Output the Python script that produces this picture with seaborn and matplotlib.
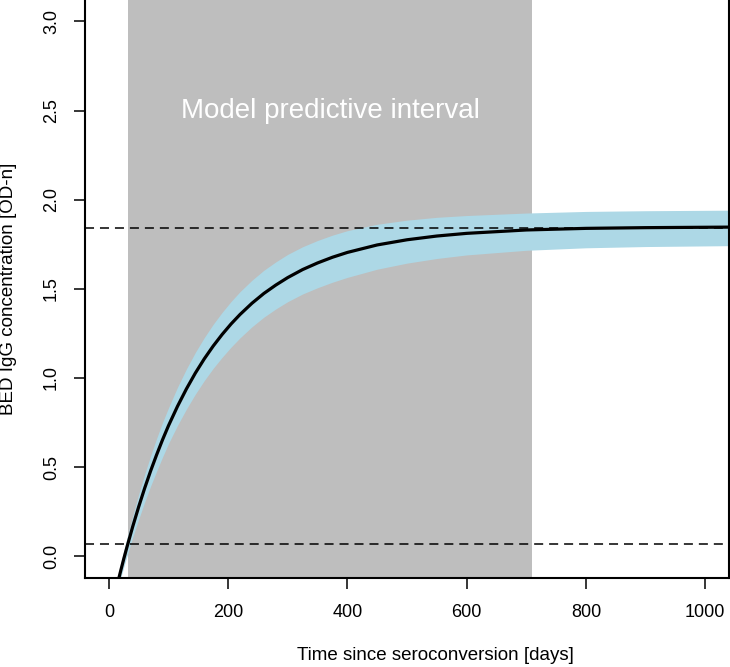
"""
BED IgG concentration vs time since seroconversion, with model predictive interval
"""

import pandas as pd
import matplotlib
matplotlib.use("Agg")
import matplotlib.pyplot as plt
import seaborn as sns

# --- Data ---
days = [10, 15, 20, 25, 30, 40, 50, 60, 70, 80, 90, 100, 115, 130, 145, 160,
        175, 190, 205, 220, 240, 260, 280, 300, 325, 350, 375, 400, 450, 500,
        550, 600, 700, 800, 900, 1040]
od_mean = [-0.216, -0.147, -0.080, -0.015, 0.047, 0.166, 0.277, 0.381, 0.478,
           0.568, 0.653, 0.732, 0.840, 0.938, 1.027, 1.107, 1.179, 1.244, 1.303,
           1.356, 1.419, 1.474, 1.521, 1.563, 1.608, 1.645, 1.677, 1.704, 1.746,
           1.775, 1.796, 1.811, 1.830, 1.839, 1.843, 1.846]
od_upper = [-0.186, -0.112, -0.040, 0.030, 0.097, 0.226, 0.347, 0.459, 0.563,
            0.660, 0.750, 0.832, 0.947, 1.050, 1.143, 1.226, 1.301, 1.368, 1.429,
            1.484, 1.548, 1.604, 1.651, 1.693, 1.736, 1.771, 1.801, 1.826, 1.862,
            1.885, 1.901, 1.911, 1.925, 1.934, 1.938, 1.941]
od_lower = [-0.246, -0.182, -0.120, -0.060, -0.003, 0.106, 0.207, 0.303, 0.393,
            0.476, 0.556, 0.632, 0.733, 0.825, 0.909, 0.985, 1.054, 1.116, 1.173,
            1.225, 1.287, 1.341, 1.387, 1.428, 1.471, 1.506, 1.537, 1.564, 1.610,
            1.644, 1.670, 1.690, 1.716, 1.730, 1.737, 1.742]
window = [32, 710]          # model predictive interval (days)
thresholds = [1.84, 0.066]  # dashed reference levels
x_ticks = [0, 200, 400, 600, 800, 1000]
y_ticks = [0.0, 0.5, 1.0, 1.5, 2.0, 2.5, 3.0]

df = pd.DataFrame({"days": days, "od": od_mean, "hi": od_upper, "lo": od_lower})

# --- Style ---
sns.set_style("ticks")
plt.rcParams['font.family'] = ['Liberation Sans', 'DejaVu Sans']

fig = plt.figure(figsize=(7.3, 6.67), dpi=100)
ax = fig.add_axes([85 / 730, 89.4 / 667, 644 / 730, 577.6 / 667])

# grey window + white label
ax.axvspan(window[0], window[1], color="#BEBEBE", lw=0, zorder=0)
ax.text(sum(window) / 2, 2.5, "Model predictive interval", color="white",
        fontsize=20, ha="center", va="center", zorder=1)

# predictive band and mean curve
ax.fill_between(df["days"], df["lo"], df["hi"], color="#ADD8E6", lw=0, zorder=2)
sns.lineplot(data=df, x="days", y="od", color="black", lw=2.3, sort=False,
             ax=ax, zorder=4)

for t in thresholds:
    ax.axhline(t, color="black", lw=1.1, dashes=(5.9, 3.9), zorder=3)

ax.set_xlim(-40, 1040)
ax.set_ylim(-0.12, 3.12)
ax.set_xticks(x_ticks)
ax.set_yticks(y_ticks)
ax.set_yticklabels([f"{v:.1f}" for v in y_ticks], rotation=90, va="center")

ax.tick_params(direction="out", length=8, width=1.1, labelsize=13, pad=10,
               color="black", labelcolor="black")
ax.tick_params(axis="x", pad=11)
for s in ax.spines.values():
    s.set_linewidth(1.5)
    s.set_color("black")
ax.spines["top"].set_visible(False)

ax.set_xlabel("Time since seroconversion [days]", fontsize=13.5, color="black")
ax.set_ylabel("BED IgG concentration [OD-n]", fontsize=13.5, color="black")
ax.xaxis.set_label_coords(0.544, -0.121)
ax.yaxis.set_label_coords(-0.105, 0.5)

fig.savefig("out.png", dpi=100)
plt.close(fig)
